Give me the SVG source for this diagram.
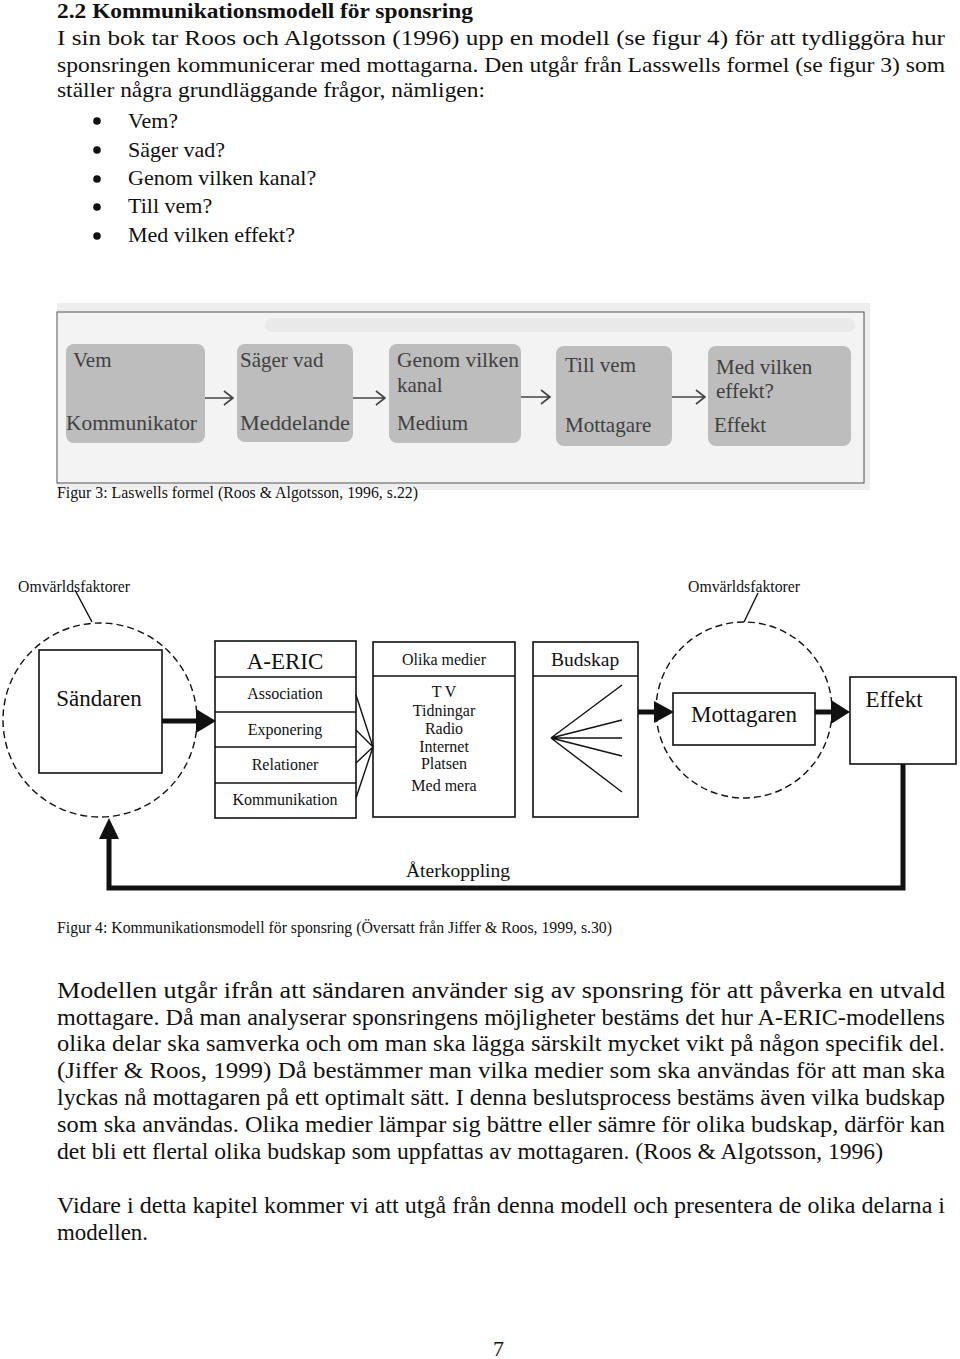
<svg xmlns="http://www.w3.org/2000/svg" width="960" height="1359" viewBox="0 0 960 1359">
<style>
text{font-family:"Liberation Serif","Times New Roman",serif;fill:#111}
.body{font-size:22px}
.body2{font-size:23.5px}
.hd{font-size:21px;font-weight:bold}
.f3{font-size:21px;fill:#404040}
.f3box{fill:#bdbdbd}
.f3arr{stroke:#444;stroke-width:1.6;fill:none}
.box{fill:#fff;stroke:#111;stroke-width:1.6}
.dash{fill:none;stroke:#111;stroke-width:1.4;stroke-dasharray:7 4}
.thin{stroke:#111;stroke-width:1.4;fill:none}
.thick{stroke:#111;stroke-width:5;fill:none}
.head{fill:#111}
.sm{font-size:16px}
.md{font-size:19.5px}
.lg{font-size:23px}
.mid{text-anchor:middle}
</style>
<rect width="960" height="1359" fill="#fff"/>

<g id="header-text">
<text class="hd" x="57" y="18" textLength="416" lengthAdjust="spacingAndGlyphs">2.2 Kommunikationsmodell för sponsring</text>
<text class="body" x="57" y="45" textLength="888" lengthAdjust="spacingAndGlyphs">I sin bok tar Roos och Algotsson (1996) upp en modell (se figur 4) för att tydliggöra hur</text>
<text class="body" x="57" y="72" textLength="888" lengthAdjust="spacingAndGlyphs">sponsringen kommunicerar med mottagarna. Den utgår från Lasswells formel (se figur 3) som</text>
<text class="body" x="57" y="97" textLength="428" lengthAdjust="spacingAndGlyphs">ställer några grundläggande frågor, nämligen:</text>
<circle cx="97" cy="121" r="3.8" fill="#111"/>
<circle cx="97" cy="150" r="3.8" fill="#111"/>
<circle cx="97" cy="179" r="3.8" fill="#111"/>
<circle cx="97" cy="207" r="3.8" fill="#111"/>
<circle cx="97" cy="236" r="3.8" fill="#111"/>
<text class="body" x="128" y="128">Vem?</text>
<text class="body" x="128" y="157">Säger vad?</text>
<text class="body" x="128" y="185">Genom vilken kanal?</text>
<text class="body" x="128" y="213">Till vem?</text>
<text class="body" x="128" y="242">Med vilken effekt?</text>
</g>

<g id="figure3">
<rect x="57" y="303" width="813" height="187" fill="#eeeeee"/>
<rect x="57" y="312" width="807" height="171" fill="#f3f3f3" stroke="#555" stroke-width="1"/>
<rect x="265" y="318" width="590" height="14" rx="7" fill="#e9e9e9"/>
<g id="f3-vem">
<rect class="f3box" x="66" y="344" width="139" height="99" rx="8"/>
<text class="f3" x="73" y="367">Vem</text>
<text class="f3" x="66" y="430" textLength="131" lengthAdjust="spacingAndGlyphs">Kommunikator</text>
</g>
<g id="f3-sager">
<rect class="f3box" x="237" y="344" width="116" height="98" rx="8"/>
<text class="f3" x="240" y="367">Säger vad</text>
<text class="f3" x="240" y="430" textLength="110" lengthAdjust="spacingAndGlyphs">Meddelande</text>
</g>
<g id="f3-genom">
<rect class="f3box" x="389" y="344" width="132" height="99" rx="8"/>
<text class="f3" x="397" y="367" textLength="122" lengthAdjust="spacingAndGlyphs">Genom vilken</text>
<text class="f3" x="397" y="392">kanal</text>
<text class="f3" x="397" y="430">Medium</text>
</g>
<g id="f3-till">
<rect class="f3box" x="556" y="346" width="116" height="100" rx="8"/>
<text class="f3" x="565" y="372">Till vem</text>
<text class="f3" x="565" y="432">Mottagare</text>
</g>
<g id="f3-effekt">
<rect class="f3box" x="708" y="346" width="143" height="100" rx="8"/>
<text class="f3" x="716" y="374">Med vilken</text>
<text class="f3" x="716" y="398">effekt?</text>
<text class="f3" x="714" y="432">Effekt</text>
</g>
<g id="f3-connectors">
<path class="f3arr" d="M205 398H232M224 391L233 398L224 405"/>
<path class="f3arr" d="M353 398H384M376 391L385 398L376 405"/>
<path class="f3arr" d="M521 397H549M541 390L550 397L541 404"/>
<path class="f3arr" d="M672 397H704M696 390L705 397L696 404"/>
</g>
<text x="57" y="498" style="font-size:16.5px" textLength="361" lengthAdjust="spacingAndGlyphs">Figur 3: Laswells formel (Roos &amp; Algotsson, 1996, s.22)</text>
</g>

<g id="figure4">
<g id="omv-left">
<text class="sm" x="18" y="592" textLength="112" lengthAdjust="spacingAndGlyphs">Omvärldsfaktorer</text>
<circle class="dash" cx="100" cy="720" r="97"/>
</g>
<g id="omv-right">
<text class="sm" x="688" y="592" textLength="112" lengthAdjust="spacingAndGlyphs">Omvärldsfaktorer</text>
<circle class="dash" cx="744" cy="710" r="88"/>
</g>
<g id="sandaren">
<rect class="box" x="39" y="650" width="123" height="123"/>
<text class="lg mid" x="99" y="706">Sändaren</text>
</g>
<g id="aeric">
<rect class="box" x="215" y="641" width="141" height="177"/>
<line class="thin" x1="215" y1="677" x2="356" y2="677"/>
<line class="thin" x1="215" y1="712" x2="356" y2="712"/>
<line class="thin" x1="215" y1="747" x2="356" y2="747"/>
<line class="thin" x1="215" y1="783" x2="356" y2="783"/>
<text class="lg mid" x="285" y="669">A-ERIC</text>
<text class="sm mid" x="285" y="699">Association</text>
<text class="sm mid" x="285" y="735">Exponering</text>
<text class="sm mid" x="285" y="770">Relationer</text>
<text class="sm mid" x="285" y="805">Kommunikation</text>
</g>
<g id="olika-medier">
<rect class="box" x="373" y="642" width="142" height="175"/>
<line class="thin" x1="373" y1="676" x2="515" y2="676"/>
<text class="sm mid" x="444" y="665">Olika medier</text>
<text class="sm mid" x="444" y="697">T V</text>
<text class="sm mid" x="444" y="716">Tidningar</text>
<text class="sm mid" x="444" y="734">Radio</text>
<text class="sm mid" x="444" y="752">Internet</text>
<text class="sm mid" x="444" y="769">Platsen</text>
<text class="sm mid" x="444" y="791">Med mera</text>
</g>
<g id="budskap">
<rect class="box" x="533" y="642" width="105" height="175"/>
<line class="thin" x1="533" y1="676" x2="638" y2="676"/>
<text class="md mid" x="585" y="666">Budskap</text>
<path class="thin" d="M622 685L551 738L622 720M551 738H622M551 738L622 756M551 738L622 792"/>
</g>
<g id="mottagaren">
<rect class="box" x="673" y="693" width="142" height="52"/>
<text class="lg mid" x="744" y="722">Mottagaren</text>
</g>
<g id="effekt">
<rect class="box" x="850" y="677" width="106" height="87"/>
<text class="lg mid" x="894" y="707">Effekt</text>
</g>
<g id="connectors">
<line class="thin" x1="75" y1="590" x2="92" y2="622"/>
<line class="thin" x1="758" y1="593" x2="744" y2="622"/>
<path class="thin" d="M356 695L373 747M356 730L373 747M356 763L373 747M356 798L373 747"/>
<line class="thick" x1="162" y1="721" x2="198" y2="721"/>
<polygon class="head" points="196,709 216,721 196,733"/>
<line class="thick" x1="638" y1="712" x2="656" y2="712"/>
<polygon class="head" points="654,701 674,712 654,723"/>
<line class="thick" x1="815" y1="712" x2="833" y2="712"/>
<polygon class="head" points="831,700 850,712 831,724"/>
<path class="thick" d="M903 764V888H109V836" stroke-linejoin="miter"/>
<polygon class="head" points="99,839 109,818 119,839"/>
<text class="md" x="406" y="877" textLength="104" lengthAdjust="spacingAndGlyphs">Återkoppling</text>
</g>
<text x="57" y="933" style="font-size:16px" textLength="555" lengthAdjust="spacingAndGlyphs">Figur 4: Kommunikationsmodell för sponsring (Översatt från  Jiffer &amp; Roos, 1999, s.30)</text>
</g>

<g id="body-text">
<text class="body2" x="57" y="998" textLength="888" lengthAdjust="spacingAndGlyphs">Modellen utgår ifrån att sändaren använder sig av sponsring för att påverka en utvald</text>
<text class="body2" x="57" y="1025" textLength="888" lengthAdjust="spacingAndGlyphs">mottagare. Då man analyserar sponsringens möjligheter bestäms det hur A-ERIC-modellens</text>
<text class="body2" x="57" y="1051" textLength="888" lengthAdjust="spacingAndGlyphs">olika delar ska samverka och om man ska lägga särskilt mycket vikt på någon specifik del.</text>
<text class="body2" x="57" y="1078" textLength="888" lengthAdjust="spacingAndGlyphs">(Jiffer &amp; Roos, 1999) Då bestämmer man vilka medier som ska användas för att man ska</text>
<text class="body2" x="57" y="1105" textLength="888" lengthAdjust="spacingAndGlyphs">lyckas nå mottagaren på ett optimalt sätt. I denna beslutsprocess bestäms även vilka budskap</text>
<text class="body2" x="57" y="1132" textLength="888" lengthAdjust="spacingAndGlyphs">som ska användas. Olika medier lämpar sig bättre eller sämre för olika budskap, därför kan</text>
<text class="body2" x="57" y="1159" textLength="826" lengthAdjust="spacingAndGlyphs">det bli ett flertal olika budskap som uppfattas av mottagaren. (Roos &amp; Algotsson, 1996)</text>
<text class="body2" x="57" y="1213" textLength="888" lengthAdjust="spacingAndGlyphs">Vidare i detta kapitel kommer vi att utgå från denna modell och presentera de olika delarna i</text>
<text class="body2" x="57" y="1240" textLength="91" lengthAdjust="spacingAndGlyphs">modellen.</text>
<text class="body" x="493" y="1356">7</text>
</g>
</svg>
